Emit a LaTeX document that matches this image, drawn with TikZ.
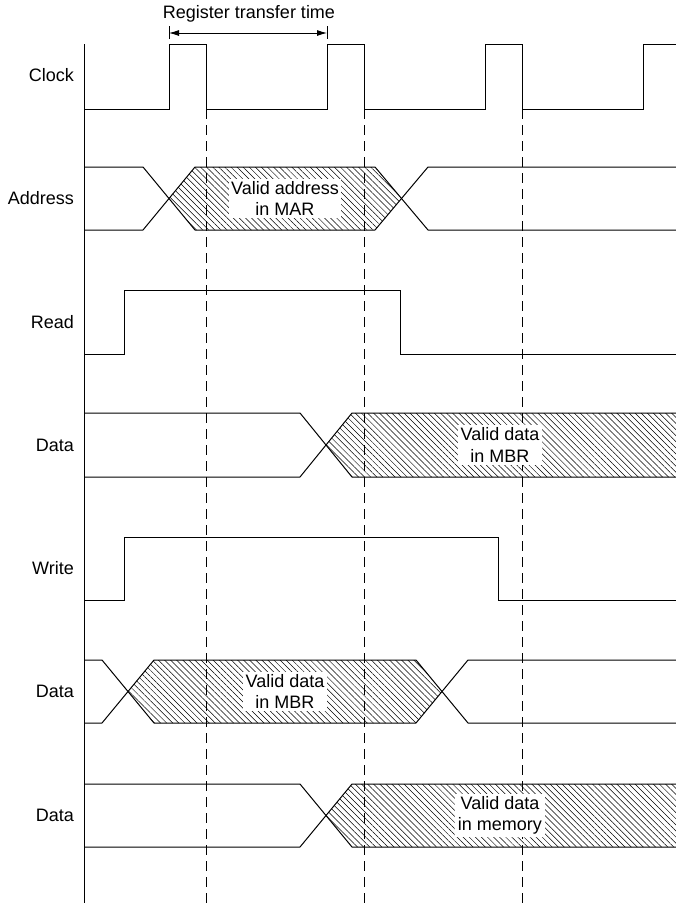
\documentclass[tikz,border=0pt]{standalone}
\usepackage{fontspec}
\setmainfont{Liberation Sans}
\usetikzlibrary{arrows.meta,patterns.meta}

\begin{document}
\begin{tikzpicture}[
    x=1pt, y=-1pt,
    font=\fontsize{18}{21.6}\selectfont,
    signal/.style={line width=1pt, line join=miter},
    guide/.style={dash pattern=on 10pt off 6pt, line width=1pt},
    hatch/.style={pattern={Lines[angle=-45, distance=4.3pt, line width=0.5pt]}},
    siglabel/.style={anchor=east, inner sep=0pt},
    validlabel/.style={fill=white, align=center, inner sep=2.5pt},
    dim/.style={{Latex[length=10pt,width=6pt]}-{Latex[length=10pt,width=6pt]}, line width=0.9pt}
]
\useasboundingbox (0,0) rectangle (676,903);

% Time axis
\coordinate (axtop) at (84,44);
\coordinate (axbot) at (84,903);

% Hatched (valid) regions
\fill[hatch] (169,198.5) -- (195,167) -- (375,167) -- (401.5,198.5) -- (375,230) -- (195,230) -- cycle;
\fill[hatch] (326,445) -- (352,413) -- (676,413) -- (676,477) -- (352,477) -- cycle;
\fill[hatch] (128,691.5) -- (154,660) -- (416,660) -- (442,691.5) -- (416,723) -- (154,723) -- cycle;
\fill[hatch] (326,815.5) -- (352,784) -- (676,784) -- (676,847) -- (352,847) -- cycle;

% Clock edges carried down
\coordinate (e1top) at (206,109);
\coordinate (e2top) at (364,109);
\coordinate (e3top) at (522,109);
\draw[guide] (e1top) -- (206,903);
\draw[guide] (e2top) -- (364,903);
\draw[guide] (e3top) -- (522,903);

% Signal names
\node[siglabel] (clock) at (74,75.5) {Clock};
\node[siglabel] (address) at (74,198.5) {Address};
\node[siglabel] (read) at (74,322) {Read};
\node[siglabel] (datard) at (74,445) {Data};
\node[siglabel] (write) at (74,568.5) {Write};
\node[siglabel] (datawr) at (74,691.5) {Data};
\node[siglabel] (datamem) at (74,815.5) {Data};

% Valid labels
\node[validlabel] (validmar) at (285,198.5) {Valid address\\in MAR};
\node[validlabel] (validmbr1) at (500,445) {Valid data\\in MBR};
\node[validlabel] (validmbr2) at (285,691.5) {Valid data\\in MBR};
\node[validlabel] (validmem) at (500,815.5) {Valid data\\in memory};

% Axis
\draw[signal] (axtop) -- (axbot);

% Clock
\draw[signal] (84,109) -- (169,109) -- (169,44) -- (206,44) -- (e1top) -- (327,109) -- (327,44)
    -- (364,44) -- (e2top) -- (485,109) -- (485,44) -- (522,44) -- (e3top) -- (643,109)
    -- (643,44) -- (676,44);

% Register transfer time
\coordinate (rtl) at (169,33);
\coordinate (rtr) at (327,33);
\draw[line width=0.9pt] ([yshift=-6]rtl) -- ([yshift=7]rtl);
\draw[line width=0.9pt] ([yshift=-6]rtr) -- ([yshift=7]rtr);
\draw[dim] (rtl) -- (rtr);
\node (rtlabel) at (249,14) {Register transfer time};

% Address
\draw[signal] (84,167) -- (143,167) -- (195,230) -- (375,230) -- (428,167) -- (676,167);
\draw[signal] (84,230) -- (143,230) -- (195,167) -- (375,167) -- (428,230) -- (676,230);

% Read
\draw[signal] (84,354) -- (124,354) -- (124,290) -- (400,290) -- (400,354) -- (676,354);

% Data (read)
\draw[signal] (84,413) -- (300,413) -- (352,477) -- (676,477);
\draw[signal] (84,477) -- (300,477) -- (352,413) -- (676,413);

% Write
\draw[signal] (84,600) -- (124,600) -- (124,537) -- (498,537) -- (498,600) -- (676,600);

% Data (write)
\draw[signal] (84,660) -- (102,660) -- (154,723) -- (416,723) -- (468,660) -- (676,660);
\draw[signal] (84,723) -- (102,723) -- (154,660) -- (416,660) -- (468,723) -- (676,723);

% Data (memory)
\draw[signal] (84,784) -- (300,784) -- (352,847) -- (676,847);
\draw[signal] (84,847) -- (300,847) -- (352,784) -- (676,784);

\end{tikzpicture}
\end{document}
